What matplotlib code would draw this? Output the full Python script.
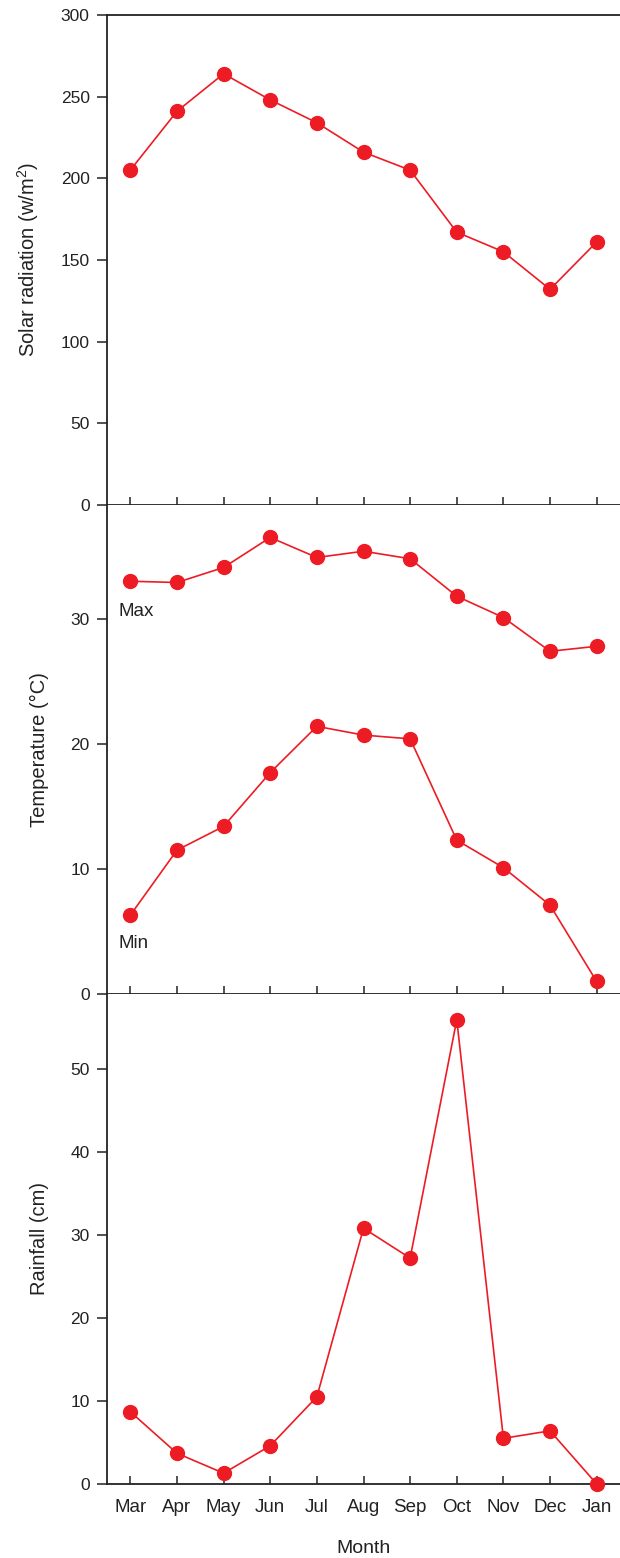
import matplotlib
matplotlib.use("Agg")
import matplotlib.pyplot as plt

months = ["Mar", "Apr", "May", "Jun", "Jul", "Aug", "Sep", "Oct", "Nov", "Dec", "Jan"]
solar = [205, 241, 264, 248, 234, 216, 205, 167, 155, 132, 161]
temp_max = [33.0, 32.9, 34.1, 36.5, 34.9, 35.4, 34.8, 31.8, 30.1, 27.4, 27.8]
temp_min = [6.3, 11.5, 13.4, 17.7, 21.4, 20.7, 20.4, 12.3, 10.1, 7.1, 1.0]
rain = [8.7, 3.7, 1.3, 4.6, 10.5, 30.8, 27.2, 55.9, 5.5, 6.4, 0.0]

plt.rcParams['font.family'] = ['Liberation Sans', 'DejaVu Sans']
plt.rcParams['mathtext.fontset'] = 'custom'
plt.rcParams['mathtext.rm'] = 'Liberation Sans'
plt.rcParams['mathtext.it'] = 'Liberation Sans'
plt.rcParams['font.size'] = 12.5
plt.rcParams['text.color'] = '#222222'
plt.rcParams['axes.labelcolor'] = '#222222'
plt.rcParams['xtick.labelcolor'] = '#222222'
plt.rcParams['ytick.labelcolor'] = '#222222'
red = "#ED1C24"
x = list(range(len(months)))

fig = plt.figure(figsize=(6.2, 15.58), dpi=100)
L, W = 107 / 620, 1 - 107 / 620
ax1 = fig.add_axes([L, 0.6759, W, 0.9904 - 0.6759])
ax2 = fig.add_axes([L, 0.3620, W, 0.6759 - 0.3620])
ax3 = fig.add_axes([L, 0.0475, W, 0.3620 - 0.0475])

def style(ax, top):
    ax.spines['right'].set_visible(False)
    ax.spines['top'].set_visible(top)
    for s in ax.spines.values():
        s.set_linewidth(1.3)
        s.set_color("#222222")
    ax.set_xlim(-0.5, 10.5)
    ax.set_xticks(x)
    ax.tick_params(axis='x', direction='in', length=6, width=1.1, color="#222222")
    ax.tick_params(axis='y', direction='out', length=7, width=1.1, color="#222222",
                   labelsize=12.5, pad=5.5)

kw = dict(color=red, lw=1.2, marker='o', ms=10, clip_on=False, zorder=3)

ax1.plot(x, solar, **kw)
ax1.set_ylim(0, 300)
ax1.set_yticks([0, 50, 100, 150, 200, 250, 300])
ax1.set_ylabel("Solar radiation (w/m$^{2}$)", fontsize=14.5, labelpad=14)
style(ax1, True)
ax1.set_xticklabels([])

ax2.plot(x, temp_max, **kw)
ax2.plot(x, temp_min, **kw)
ax2.set_ylim(0, 39.1)
ax2.set_yticks([0, 10, 20, 30])
ax2.set_ylabel("Temperature (°C)", fontsize=14.5, labelpad=15)
ax2.text(-0.25, 30.2, "Max", fontsize=13.5)
ax2.text(-0.25, 3.7, "Min", fontsize=13.5)
style(ax2, False)
ax2.set_xticklabels([])

ax3.plot(x, rain, **kw)
ax3.set_ylim(0, 59)
ax3.set_yticks([0, 10, 20, 30, 40, 50])
ax3.set_ylabel("Rainfall (cm)", fontsize=14.5, labelpad=15)
style(ax3, False)
ax3.set_xticklabels(months, fontsize=13.5)
ax3.tick_params(axis='x', pad=11)
ax3.set_xlabel("Month", fontsize=14, labelpad=17)

fig.savefig("out.png", dpi=100)
